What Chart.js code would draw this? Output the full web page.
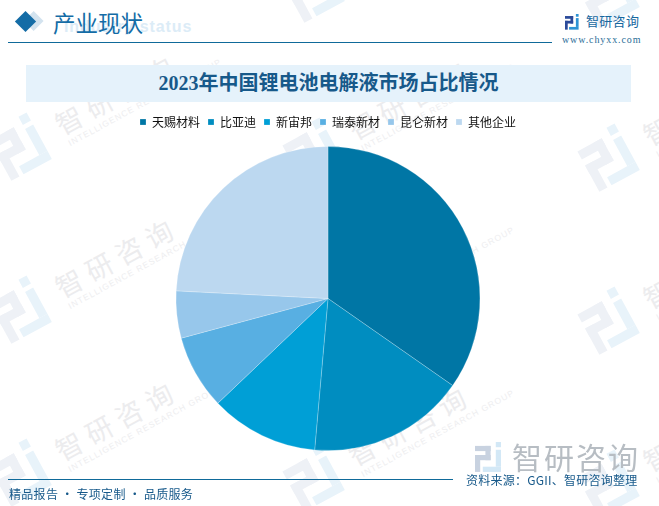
<!DOCTYPE html>
<html><head><meta charset="utf-8">
<script src="https://cdn.jsdelivr.net/npm/chart.js@4"></script>
<style>
html,body{margin:0;padding:0;background:#fff;overflow:hidden}
#page{position:relative;width:659px;height:506px;overflow:hidden;font-family:"Noto Sans CJK SC",sans-serif}
#page div{position:absolute}
.wm{color:#ececee;font-size:27px;line-height:32px;letter-spacing:7px;white-space:nowrap;transform:rotate(-28.5deg);transform-origin:0 50%}
.wm small{position:absolute;left:2px;top:32px;font:8.5px/10px "Liberation Sans";letter-spacing:1.05px;white-space:nowrap;color:#eeeef0}
.logo{width:46px;height:46px;transform-origin:0 0}
.logo i{position:absolute;display:block}
canvas{position:absolute;left:0;top:0}
</style></head><body>
<div id="page">
<div id="wms"></div>
<div style="left:21px;top:14px;width:14px;height:14px;background:#d3e3ef;transform:rotate(45deg) translate(4px,-4px)"></div>
<div style="left:18px;top:14px;width:15px;height:15px;background:#146ca6;transform:rotate(45deg)"></div>
<div style="left:64px;top:18px;font:bold 16px 'Liberation Sans';color:#dcecf7;white-space:nowrap;letter-spacing:.9px">Industry status</div>
<div style="left:53px;top:6px;font-size:22.5px;line-height:32px;color:#146ca6;white-space:nowrap">产业现状</div>
<div style="left:8px;top:42px;width:544px;height:1px;background:#0f6a9a"></div>
<div id="logoTop" class="logo" style="left:565px;top:14px;transform:scale(.34)"></div>
<div style="left:586px;top:10px;font-size:13px;line-height:22px;letter-spacing:.3px;color:#17689f;white-space:nowrap">智研咨询</div>
<div style="left:562px;top:34px;font:10px 'Liberation Serif';letter-spacing:.9px;color:#2a6d97;white-space:nowrap">www.chyxx.com</div>
<div style="left:26px;top:65px;width:605px;height:37px;background:#e5f2fb"></div>
<div style="left:26px;top:65px;width:605px;height:37px;line-height:37px;text-align:center;font-family:'Liberation Serif','Noto Sans CJK SC';font-weight:700;font-size:20px;color:#17598a;white-space:nowrap">2023年中国锂电池电解液市场占比情况</div>
<canvas id="c" width="659" height="506"></canvas>
<div style="left:8px;top:479px;width:445px;height:1px;background:#0f6a9a"></div>
<div style="left:9px;top:484px;font-size:12px;line-height:20px;color:#17598a;white-space:nowrap;letter-spacing:.3px">精品报告 · 专项定制 · 品质服务</div>
<div id="logoBottom" class="logo" style="left:475px;top:442px;transform:scale(.65);opacity:.3"></div>
<div style="left:512px;top:436px;font-size:30px;line-height:40px;letter-spacing:2px;color:#b7bdc3;white-space:nowrap">智研咨询</div>
<div style="left:466px;top:471px;font-size:12px;line-height:18px;color:#17598a;white-space:nowrap;letter-spacing:.25px">资料来源：GGII、智研咨询整理</div>
</div>
<script>
const categories = ["天赐材料","比亚迪","新宙邦","瑞泰新材","昆仑新材","其他企业"];
const shares = [34.7,16.7,11.5,7.9,5.0,24.2];
const sliceColors = ["#0076a5","#008dc0","#009fd6","#58afe2","#97c7eb","#bcd8f0"];
const watermarkText = "智研咨询";
const watermarkSub = "INTELLIGENCE RESEARCH GROUP";

function logoHTML(a,b){
  const r=(x,y,w,h,c)=>`<i style="left:${x}px;top:${y}px;width:${w}px;height:${h}px;background:${c}"></i>`;
  return r(0,6,24,8,a)+r(16,6,8,22,a)+r(0,20,24,8,a)+r(0,20,8,26,a)+
         r(32,0,8,8,b)+r(32,12,8,26,b)+r(12,38,28,8,b);
}
document.getElementById('logoTop').innerHTML=logoHTML('#2b4a9a','#2d93d4');
document.getElementById('logoBottom').innerHTML=logoHTML('#4a6a9a','#6db2e0');

const wms=document.getElementById('wms');
[[-1,122],[-1,285],[-1,448],[292,-36],[292,127],[292,290],[292,453],[587,-30],[587,133],[587,296],[587,459]].forEach(p=>{
  const l=document.createElement('div');l.className='logo';l.style.left=p[0]+'px';l.style.top=p[1]+'px';
  l.style.transform='rotate(-28.5deg) scale(1.15)';l.style.transformOrigin='50% 50%';
  l.innerHTML=logoHTML('#eef1f6','#e8f3fa');wms.appendChild(l);
  const d=document.createElement('div');d.className='wm';d.style.left=(p[0]+58)+'px';d.style.top=(p[1]-12)+'px';
  d.innerHTML=watermarkText+'<small>'+watermarkSub+'</small>';wms.appendChild(d);
});

new Chart(document.getElementById('c'),{
  type:'pie',
  data:{labels:categories,datasets:[{data:shares,backgroundColor:sliceColors,borderWidth:0.5,borderColor:'rgba(255,255,255,.45)'}]},
  options:{
    responsive:false,animation:false,radius:152,
    layout:{padding:{top:108,bottom:47,right:3}},
    plugins:{
      tooltip:{enabled:false},
      legend:{position:'top',labels:{boxWidth:6,boxHeight:6,padding:8,color:'#111',font:{size:12,family:'"Noto Sans CJK SC"'}}}
    }
  }
});
</script>
</body></html>
